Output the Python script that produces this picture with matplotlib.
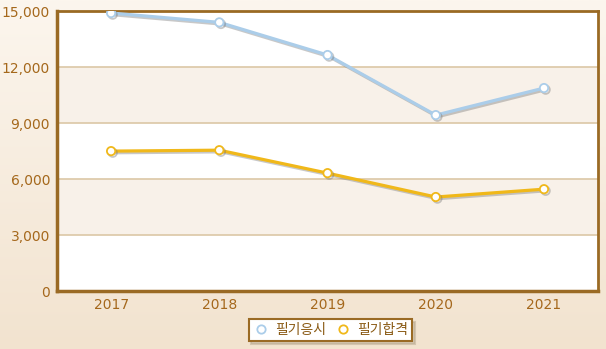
import numpy as np
import matplotlib.pyplot as plt
import matplotlib.patheffects as pe
from matplotlib.colors import LinearSegmentedColormap
from matplotlib.ticker import FuncFormatter

plt.rcParams['font.family'] = ['Noto Sans CJK KR', 'DejaVu Sans']

years = ['2017', '2018', '2019', '2020', '2021']
written_applicants = [14900, 14400, 12650, 9430, 10880]
written_passed = [7500, 7550, 6320, 5040, 5460]
series_names = ['필기응시', '필기합격']

fig = plt.figure(figsize=(6.06, 3.49), dpi=100)

# gradient background
bg = fig.add_axes([0, 0, 1, 1], zorder=-10)
cmap = LinearSegmentedColormap.from_list('bg', ['#f2e3cf', '#fcf6ee'])
grad = np.linspace(0, 1, 256).reshape(-1, 1)
bg.imshow(grad, aspect='auto', cmap=cmap, extent=[0, 1, 0, 1], origin='lower')
bg.axis('off')

ax = fig.add_axes([0.094, 0.166, 0.893, 0.802])
ax.set_xlim(-0.5, len(years) - 0.5)
ax.set_ylim(0, 15000)

# alternate bands
for i, lo in enumerate(range(0, 15000, 3000)):
    ax.axhspan(lo, lo + 3000, color='#ffffff' if i % 2 == 0 else '#f8f1e9', zorder=0, lw=0)
for t in range(3000, 15000, 3000):
    ax.axhline(t, color='#dcc7a6', lw=1.2, zorder=1)

x = np.arange(len(years))
shadow = [pe.SimpleLineShadow(offset=(1.2, -1.2), shadow_color='#777777', alpha=0.4), pe.Normal()]
ax.plot(x, written_applicants, color='#abcde9', lw=2.3, marker='o', ms=6,
        mfc='white', mec='#abcde9', mew=1.3, label=series_names[0],
        zorder=5, path_effects=shadow)
ax.plot(x, written_passed, color='#f0b81a', lw=2.3, marker='o', ms=6,
        mfc='white', mec='#f0b81a', mew=1.3, label=series_names[1],
        zorder=5, path_effects=shadow)

ax.set_xticks(x)
ax.set_xticklabels(years)
ax.set_yticks(range(0, 15001, 3000))
ax.yaxis.set_major_formatter(FuncFormatter(lambda v, p: f'{int(v):,}'))
ax.tick_params(axis='both', length=0, colors='#a5681c', labelsize=10, pad=5)
for lbl in ax.get_xticklabels() + ax.get_yticklabels():
    lbl.set_family(['DejaVu Sans'])

for side in ['left', 'bottom']:
    ax.spines[side].set_color('#9a6a24')
    ax.spines[side].set_linewidth(2.5)
for side in ['top', 'right']:
    ax.spines[side].set_color('#9a6a24')
    ax.spines[side].set_linewidth(2)

leg = fig.legend(loc='center', bbox_to_anchor=(0.545, 0.054),
                 bbox_transform=fig.transFigure, ncol=2,
                 frameon=True, fancybox=False,
                 shadow={'color': '#b8a88f', 'alpha': 0.5, 'ox': 2, 'oy': -2},
                 fontsize=10, handlelength=1.2, handletextpad=0.4,
                 columnspacing=0.6, borderpad=0.3, labelcolor='#8a5a14')
leg.get_frame().set_edgecolor('#9a6a24')
leg.get_frame().set_linewidth(1.5)
for h in leg.get_lines():
    h.set_linestyle('none')
    h.set_path_effects([])

fig.savefig('out.png', dpi=100)
